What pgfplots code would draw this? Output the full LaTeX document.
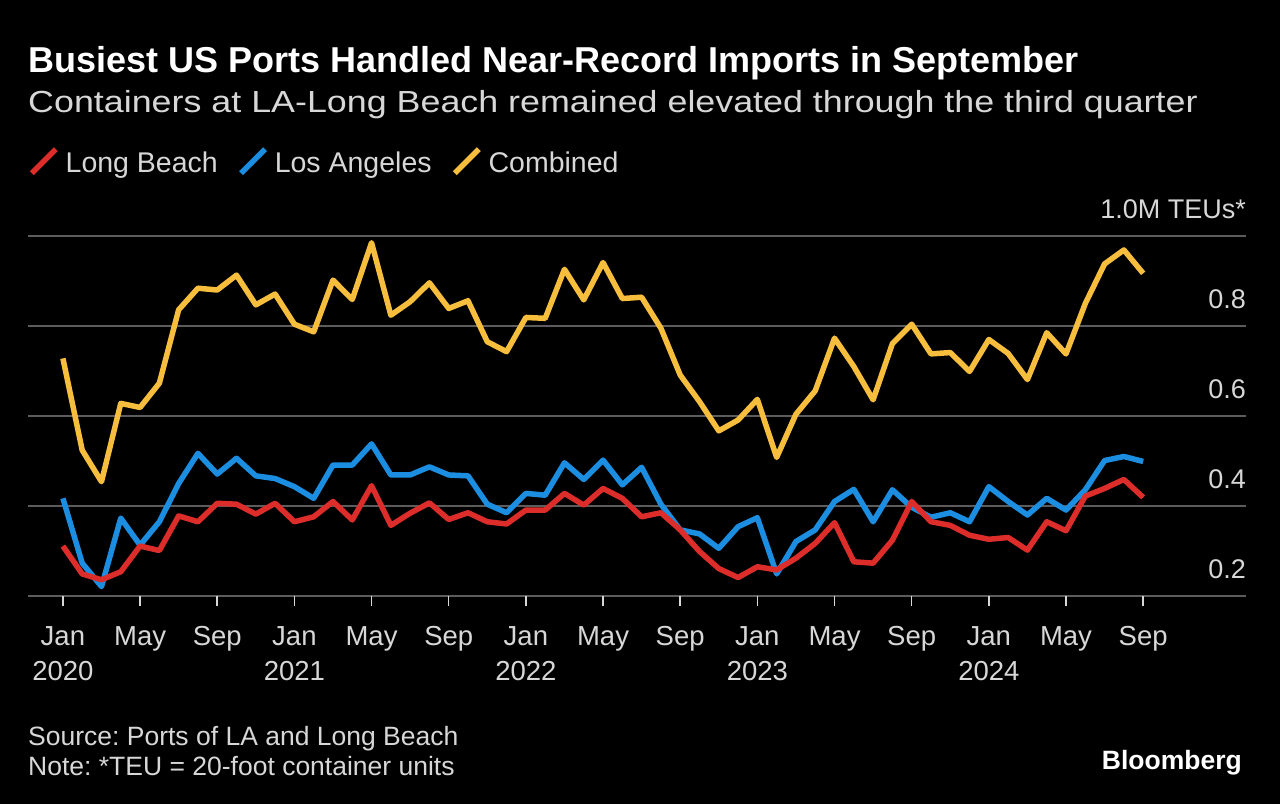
\documentclass[border=0pt]{standalone}
\usepackage{fontspec}
\setmainfont{Liberation Sans}
\newfontfamily\subfont[FakeStretch=1.175]{Liberation Sans}
\usepackage{pgfplots}
\pgfplotsset{compat=1.18}
\usepackage{pgfplotstable}
\definecolor{lbred}{RGB}{220,45,42}
\definecolor{lablue}{RGB}{28,142,225}
\definecolor{combyel}{RGB}{246,190,60}
\definecolor{gridgray}{RGB}{92,92,92}
\definecolor{txtgray}{RGB}{215,215,215}
\frenchspacing

\pgfplotstableread{
m lb la comb
0 0.311 0.417 0.728
1 0.249 0.273 0.524
2 0.236 0.221 0.454
3 0.254 0.373 0.628
4 0.311 0.313 0.619
5 0.301 0.365 0.673
6 0.378 0.450 0.836
7 0.365 0.517 0.884
8 0.406 0.471 0.880
9 0.404 0.506 0.913
10 0.382 0.467 0.847
11 0.406 0.461 0.871
12 0.365 0.443 0.804
13 0.376 0.417 0.787
14 0.410 0.491 0.902
15 0.369 0.491 0.859
16 0.445 0.538 0.985
17 0.357 0.469 0.824
18 0.384 0.469 0.854
19 0.407 0.487 0.896
20 0.370 0.469 0.839
21 0.385 0.467 0.856
22 0.365 0.404 0.765
23 0.360 0.385 0.743
24 0.391 0.428 0.819
25 0.391 0.424 0.817
26 0.428 0.496 0.926
27 0.402 0.459 0.858
28 0.439 0.502 0.941
29 0.417 0.447 0.861
30 0.376 0.486 0.864
31 0.385 0.404 0.795
32 0.347 0.347 0.691
33 0.299 0.338 0.632
34 0.261 0.306 0.567
35 0.241 0.354 0.591
36 0.265 0.374 0.637
37 0.258 0.249 0.508
38 0.284 0.321 0.604
39 0.317 0.347 0.656
40 0.363 0.410 0.773
41 0.276 0.437 0.710
42 0.273 0.365 0.636
43 0.324 0.436 0.761
44 0.410 0.397 0.804
45 0.365 0.375 0.738
46 0.357 0.385 0.741
47 0.335 0.365 0.699
48 0.326 0.443 0.770
49 0.330 0.410 0.739
50 0.302 0.380 0.681
51 0.365 0.417 0.785
52 0.345 0.391 0.738
53 0.422 0.436 0.850
54 0.439 0.501 0.938
55 0.459 0.510 0.969
56 0.419 0.499 0.917
}\ports

\begin{document}
\begin{tikzpicture}[x=1pt,y=1pt]
\fill[black] (0,0) rectangle (1280,804);
\node[anchor=base west, text=white, font=\fontsize{36}{40}\selectfont\bfseries, inner sep=0] at (28,731.5) {Busiest US Ports Handled Near-Record Imports in September};
\node[anchor=base west, text=txtgray, font=\subfont\fontsize{30.5}{36}\selectfont, inner sep=0] at (28,691) {Containers at LA-Long Beach remained elevated through the third quarter};
\node[anchor=base west, text=txtgray, font=\fontsize{26.5}{30}\selectfont, inner sep=0] at (28,59) {Source: Ports of LA and Long Beach};
\node[anchor=base west, text=txtgray, font=\fontsize{26.5}{30}\selectfont, inner sep=0] at (28,29) {Note: *TEU = 20-foot container units};
\node[anchor=base east, text=white, font=\fontsize{26.5}{30}\selectfont\bfseries, inner sep=0] at (1242,35) {Bloomberg};
\begin{axis}[
  at={(28pt,208pt)}, anchor=south west,
  scale only axis, width=1218pt, height=360pt,
  xmin=-1.81, xmax=61.33, ymin=0.2, ymax=1.0,
  clip=false,
  axis line style={draw=none},
  ymajorgrids, grid style={gridgray, line width=2pt},
  ytick={0.2,0.4,0.6,0.8,1.0},
  yticklabels={0.2,0.4,0.6,0.8,1.0M TEUs*},
  yticklabel pos=right,
  y tick style={draw=none},
  yticklabel style={anchor=base east, text=txtgray, font=\fontsize{27}{30}\selectfont, inner sep=0pt, xshift=-10pt, yshift=17.5pt},
  xtick={0,4,...,56},
  xticklabels={Jan\\2020,May,Sep,Jan\\2021,May,Sep,Jan\\2022,May,Sep,Jan\\2023,May,Sep,Jan\\2024,May,Sep},
  xtick pos=bottom, tick align=outside, major tick length=10pt,
  x tick style={draw=txtgray, line width=1.5pt},
  xticklabel style={align=center, anchor=north, text=txtgray, font=\fontsize{27.5}{35}\selectfont, yshift=-17pt},
  legend style={at={(axis description cs:0.0008,1.2078)}, anchor=west, draw=none, fill=none, text=txtgray,
    inner sep=0pt, nodes={inner sep=0pt},
    font=\fontsize{28.5}{32}\selectfont, legend columns=3,
    /tikz/every odd column/.append style={column sep=7pt},
    /tikz/every even column/.append style={column sep=20.5pt}},
  legend image code/.code={\draw[#1] (0pt,-10pt) -- (24pt,14pt);},
]
\addlegendimage{lbred, line width=5.5pt}
\addlegendentry{Long Beach}
\addlegendimage{lablue, line width=5.5pt}
\addlegendentry{Los Angeles}
\addlegendimage{combyel, line width=5.5pt}
\addlegendentry{Combined}
\addplot[lablue, line width=5.5pt, line join=round, forget plot] table[x=m, y=la] {\ports};
\addplot[lbred, line width=5.5pt, line join=round, forget plot] table[x=m, y=lb] {\ports};
\addplot[combyel, line width=5.5pt, line join=round, forget plot] table[x=m, y=comb] {\ports};
\end{axis}
\pgfresetboundingbox
\path[use as bounding box] (0,0) rectangle (1280,804);
\end{tikzpicture}
\end{document}
